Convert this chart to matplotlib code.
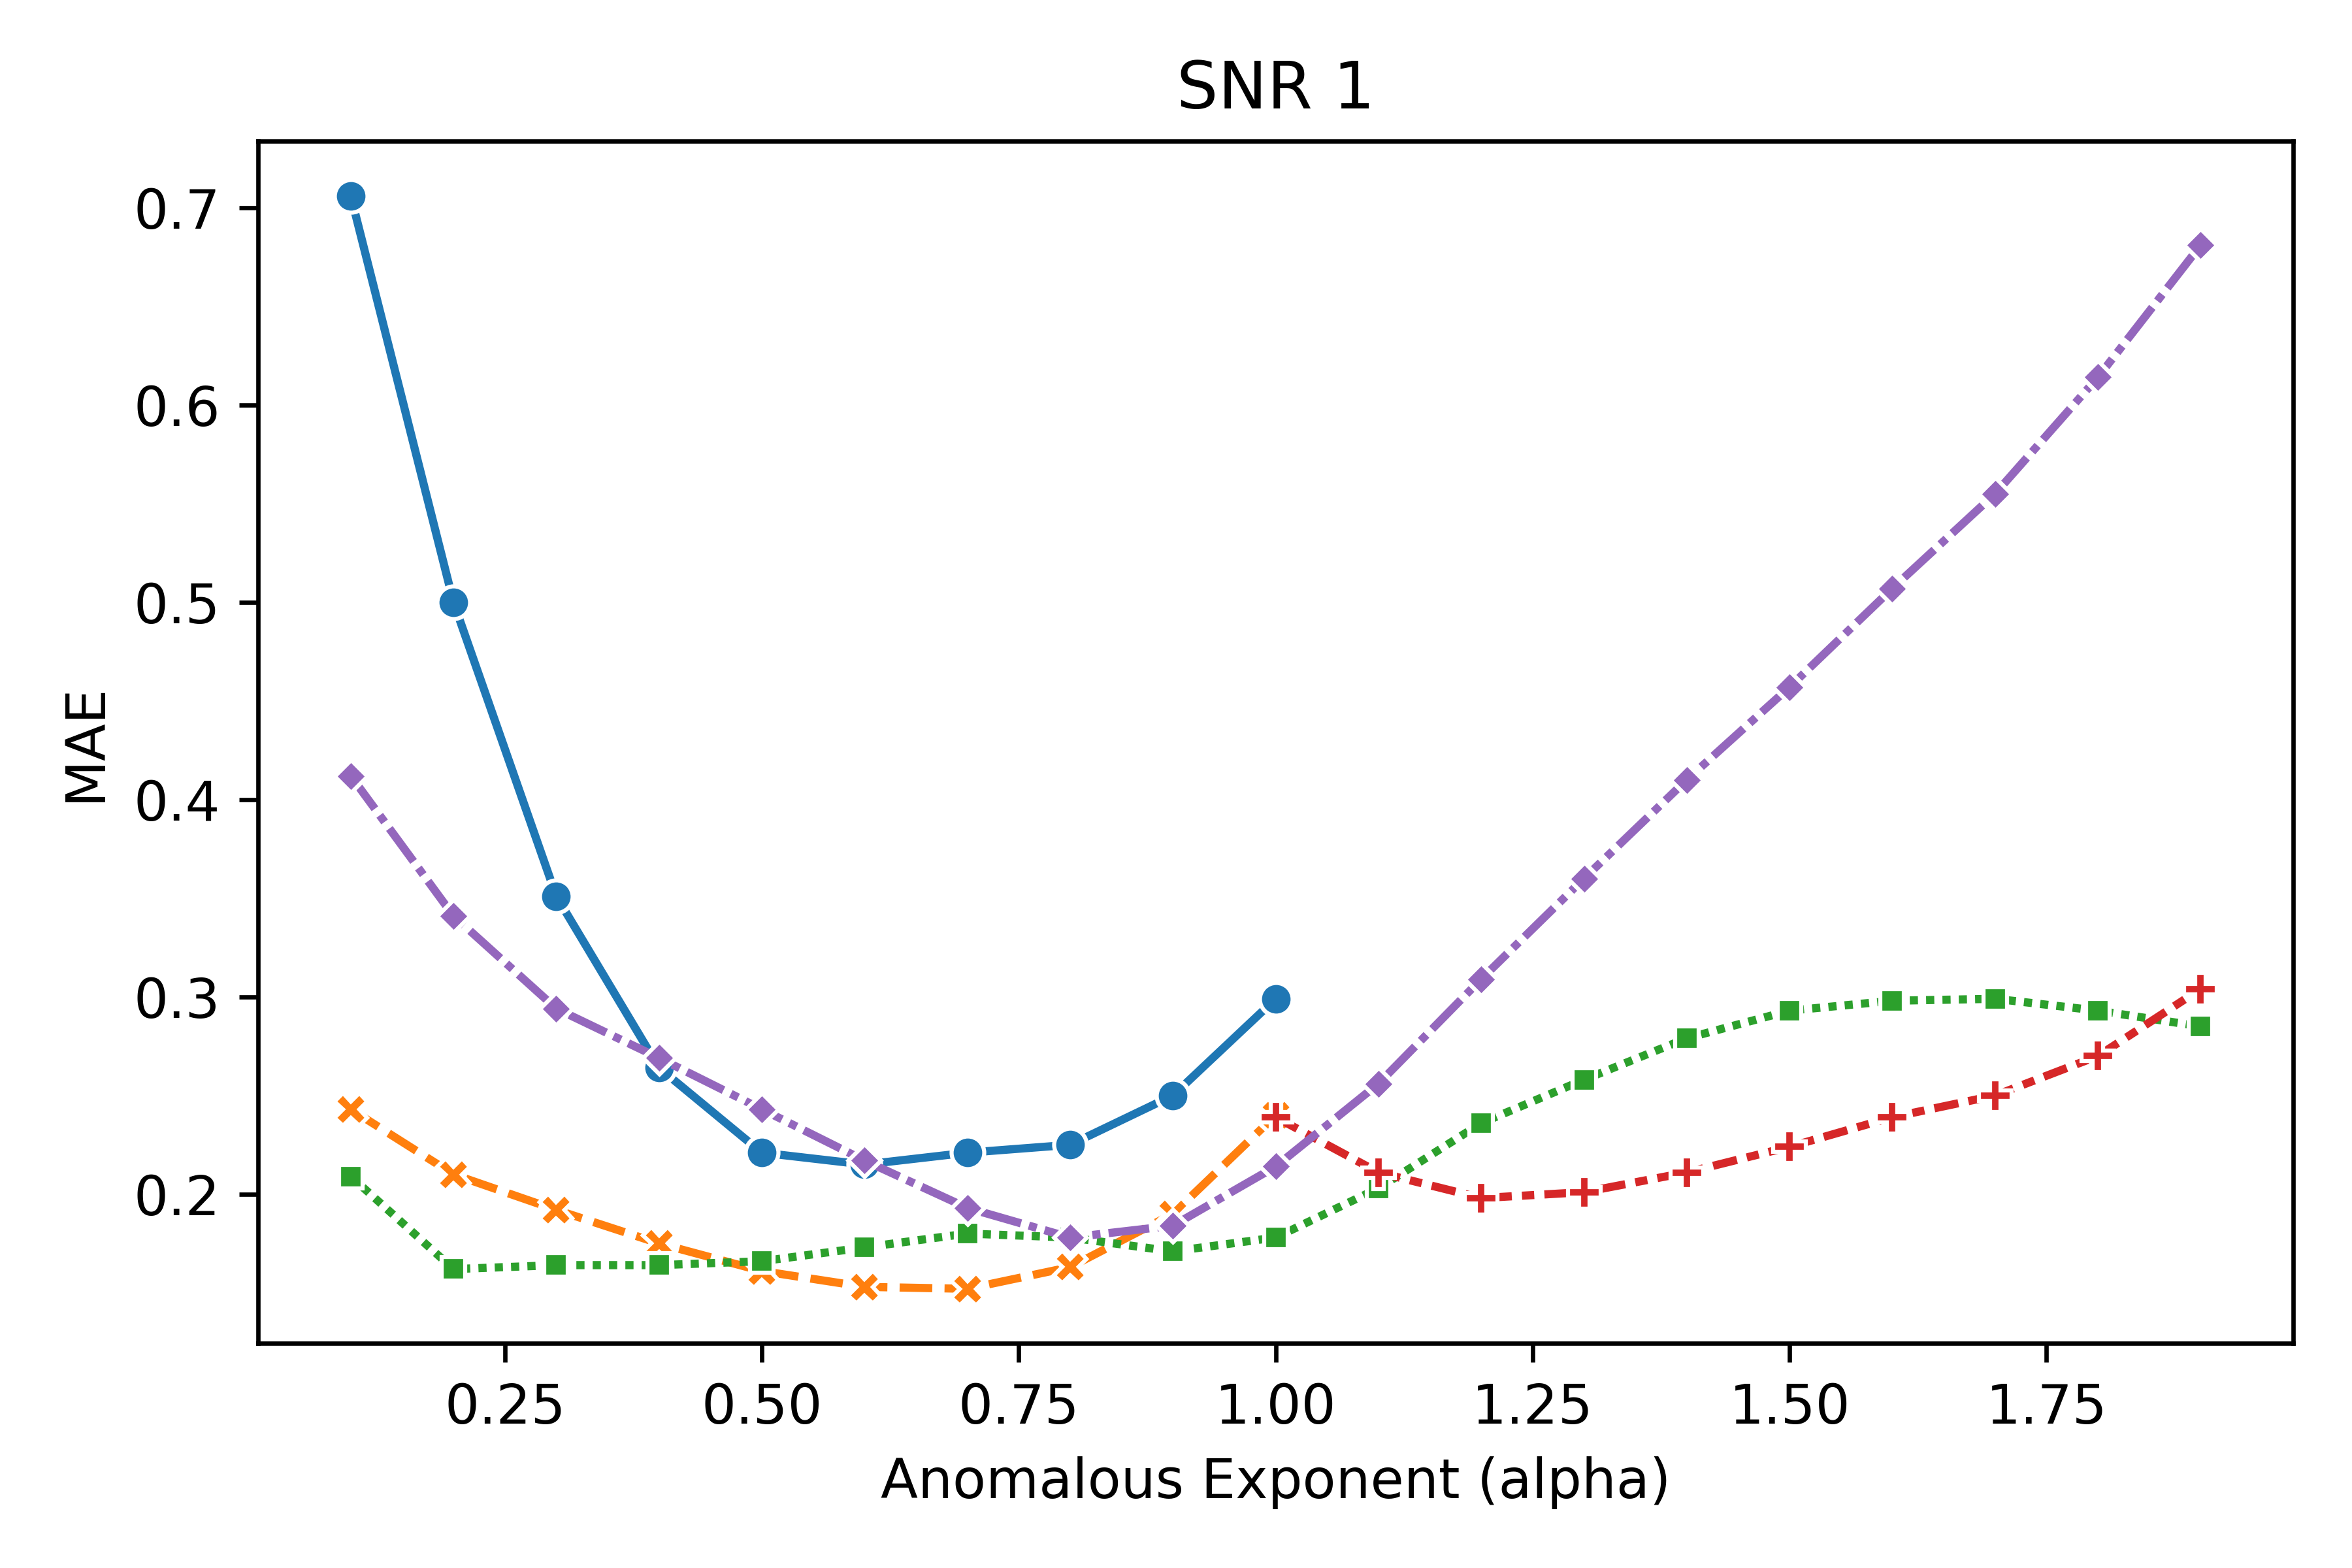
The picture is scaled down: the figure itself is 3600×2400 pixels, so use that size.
import numpy as np
import pandas as pd
import matplotlib
matplotlib.use("Agg")
import matplotlib.pyplot as plt
import seaborn as sns

models = ["Model 1", "Model 2", "Model 3", "Model 4", "Model 5"]

alpha_low = [0.1, 0.2, 0.3, 0.4, 0.5, 0.6, 0.7, 0.8, 0.9, 1.0]
alpha_high = [1.0, 1.1, 1.2, 1.3, 1.4, 1.5, 1.6, 1.7, 1.8, 1.9]
alpha_all = [0.1, 0.2, 0.3, 0.4, 0.5, 0.6, 0.7, 0.8, 0.9, 1.0,
             1.1, 1.2, 1.3, 1.4, 1.5, 1.6, 1.7, 1.8, 1.9]

mae_model1 = [0.706, 0.500, 0.351, 0.264, 0.221, 0.215, 0.221, 0.225, 0.250, 0.299]
mae_model2 = [0.243, 0.210, 0.192, 0.175, 0.161, 0.153, 0.152, 0.163, 0.190, 0.240]
mae_model3 = [0.209, 0.162, 0.164, 0.164, 0.166, 0.173, 0.180, 0.178, 0.171, 0.178,
              0.203, 0.236, 0.258, 0.279, 0.293, 0.298, 0.299, 0.293, 0.285]
mae_model4 = [0.239, 0.211, 0.198, 0.201, 0.211, 0.224, 0.239, 0.250, 0.270, 0.304]
mae_model5 = [0.412, 0.341, 0.294, 0.269, 0.243, 0.217, 0.193, 0.178, 0.184, 0.214,
              0.256, 0.309, 0.360, 0.410, 0.457, 0.507, 0.555, 0.614, 0.681]

series = [
    (models[0], alpha_low, mae_model1),
    (models[1], alpha_low, mae_model2),
    (models[2], alpha_all, mae_model3),
    (models[3], alpha_high, mae_model4),
    (models[4], alpha_all, mae_model5),
]
rows = []
for name, xs, ys in series:
    for x, y in zip(xs, ys):
        rows.append({"model": name, "alpha": x, "MAE": y})
df = pd.DataFrame(rows)

fig, ax = plt.subplots(figsize=(6, 4), dpi=600)
sns.lineplot(data=df, x="alpha", y="MAE", hue="model", style="model",
             hue_order=models, style_order=models,
             markers=True, dashes=True, legend=False, ax=ax)
ax.set_title("SNR 1")
ax.set_xlabel("Anomalous Exponent (alpha)")
ax.set_ylabel("MAE")
fig.tight_layout()
fig.savefig("out.png", dpi=600)
